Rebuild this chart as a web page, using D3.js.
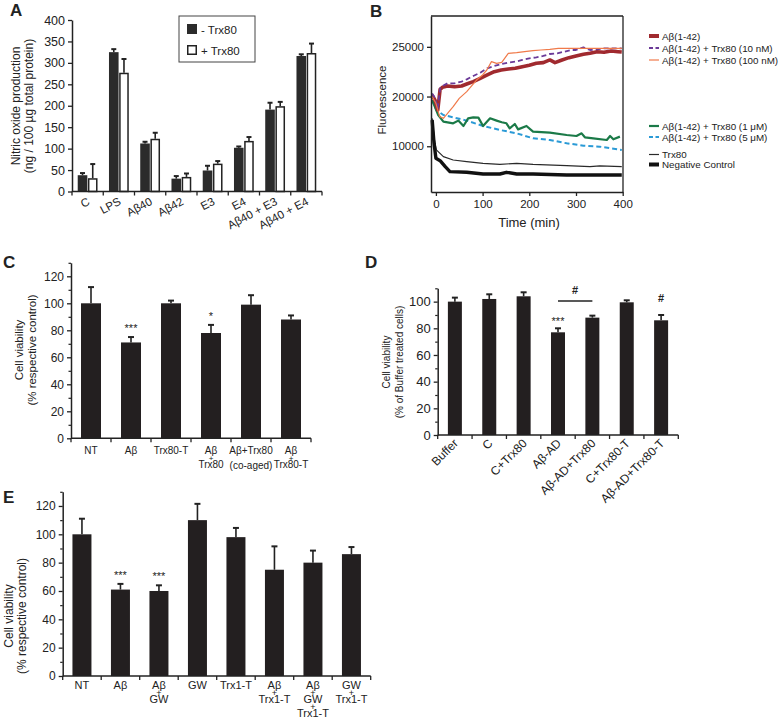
<!DOCTYPE html>
<html><head><meta charset="utf-8">
<script src="https://cdn.jsdelivr.net/npm/d3@7"></script>
<style>
body{margin:0;background:#fff}
svg{display:block}
text{font-family:"Liberation Sans",Arial,Helvetica,sans-serif;fill:#222}
</style>
</head><body>
<svg id="fig" width="784" height="722"></svg>
<script>
// ================= DATA =================
// Panel A
const catsA = ["C","LPS","Aβ40","Aβ42","E3","E4","Aβ40 + E3","Aβ40 + E4"];
const minusTrx80 = [38, 325, 112, 30, 49, 102, 191, 316];
const minusTrx80Err = [5, 7, 4, 6, 11, 3, 16, 4];
const plusTrx80 = [31, 277, 123, 34, 65, 118, 199, 323];
const plusTrx80Err = [33, 32, 14, 8, 6, 9, 10, 22];
const ticksA = [0, 50, 100, 150, 200, 250, 300, 350, 400];
const legendA = ["- Trx80", "+ Trx80"];

// Panel B (time in min, fluorescence)
const tAb = [-8,-2,4,9,14,25,40,55,66,80,95,110,125,140,155,170,185,200,215,230,244,255,270,285,300,316,330,345,360,375,390,398];
const fAb = [20150,19650,18650,20730,20930,21060,20990,21060,21260,21500,21830,22170,22500,22670,22770,22840,23000,23140,23340,23410,23680,23410,23680,23910,24080,24250,24350,24510,24450,24580,24510,24480];
const t10nM = [-8,-2,4,9,14,25,40,55,66,80,95,110,125,140,155,170,185,200,215,230,244,260,275,290,300,316,330,345,360,380,398];
const f10nM = [20320,19820,18820,20830,21060,21330,21330,21500,21730,22070,22400,22840,23070,23270,23410,23510,23680,23840,23940,24080,24280,24350,24510,24680,24680,24950,24680,24750,24850,24850,24850];
const t100nM = [-8,0,8,16,37,50,66,87,100,109,119,130,141,155,173,190,208,225,244,262,280,300,398];
const f100nM = [19990,19320,17980,17810,18980,19820,20490,21660,22170,22670,23510,23340,23440,24350,24410,24510,24610,24680,24750,24850,24850,24850,24850];
const t1uM = [-8,5,16,37,48,59,69,80,91,101,116,130,141,151,158,169,176,194,208,244,280,301,312,319,337,366,373,380,394];
const f1uM = [19650,18140,17470,17310,17580,17040,17810,17910,17880,17040,17810,17580,17410,17310,16800,17240,16700,17040,16470,16370,16130,16030,16300,15900,15800,15630,16030,15700,15970];
const t5uM = [-8,1,16,37,66,101,123,137,173,208,244,280,316,351,398];
const f5uM = [19650,18650,18140,17910,17580,17040,16800,16640,16300,15800,15630,15300,15060,14960,14630];
const tTrx80 = [-8,-3,1,16,37,66,101,137,173,208,280,330,351,398];
const fTrx80 = [17810,15630,14630,13960,13620,13450,13280,13180,13280,13180,13050,12950,13020,12950];
const tNeg = [-8,-4,0,9,20,30,66,101,137,151,173,208,280,351,398];
const fNeg = [17640,15300,13790,13550,12950,12450,12380,12210,12210,12380,12210,12210,12110,12110,12110];
const xTicksB = [0, 100, 200, 300, 400];
const yTickValsB = [25000, 20000, 15000];
const yTickLabelsB = ["25000", "20000", "10000"];
const seriesNamesB = ["Aβ(1-42)","Aβ(1-42) + Trx80 (10 nM)","Aβ(1-42) + Trx80 (100 nM)","Aβ(1-42) + Trx80 (1 μM)","Aβ(1-42) + Trx80 (5 μM)","Trx80","Negative Control"];

// Panel C
const catsC = [["NT"],["Aβ"],["Trx80-T"],["Aβ","+","Trx80"],["Aβ+Trx80","(co-aged)"],["Aβ","+","Trx80-T"]];
const valuesC = [100, 71, 100, 78, 99, 88];
const errC = [12, 4, 2, 6, 7, 3];
const sigC = ["", "***", "", "*", "", ""];
const ticksC = [0, 20, 40, 60, 80, 100, 120];

// Panel D
const catsD = ["Buffer","C","C+Trx80","Aβ-AD","Aβ-AD+Trx80","C+Trx80-T","Aβ-AD+Trx80-T"];
const valuesD = [100, 102, 104, 77, 88, 99.5, 86];
const errD = [3, 3.5, 3, 3, 1.5, 1.5, 4];
const ticksD = [0, 20, 40, 60, 80, 100];

// Panel E
const catsE = [["NT"],["Aβ"],["Aβ","+","GW"],["GW"],["Trx1-T"],["Aβ","+","Trx1-T"],["Aβ","+","GW","+","Trx1-T"],["GW","+","Trx1-T"]];
const valuesE = [100, 61, 60, 110, 98, 75, 80, 86];
const errE = [11, 4, 4, 11.5, 6.5, 16.5, 8.5, 5];
const sigE = ["", "***", "***", "", "", "", "", ""];
const ticksE = [0, 20, 40, 60, 80, 100, 120];

// ================= DRAWING =================
const svg = d3.select("#fig");
const INK = "#222";
const BAR = "#231f20";

function letter(t, x, y){
  svg.append("text").attr("x", x).attr("y", y).attr("font-size", 17).attr("font-weight", "bold").text(t);
}
function yTitle(lines, xs, cy, size){
  lines.forEach((l, i) => {
    svg.append("text").attr("transform", `translate(${xs[i]},${cy}) rotate(-90)`)
      .attr("text-anchor", "middle").attr("font-size", size).text(l);
  });
}
function yAxis(y, x0, majors, minors, fs, tickLabels){
  const g = svg.append("g").attr("transform", `translate(${x0},0)`);
  const ax = d3.axisLeft(y).tickValues(majors).tickSize(4).tickSizeOuter(0).tickPadding(3);
  if (tickLabels) ax.tickFormat((d, i) => tickLabels[i]);
  g.call(ax);
  g.select(".domain").attr("stroke", INK).attr("stroke-width", 1.5);
  g.selectAll(".tick line").attr("stroke", INK).attr("stroke-width", 1.3);
  g.selectAll(".tick text").attr("font-size", fs).attr("fill", INK).attr("font-family", null);
  if (minors){
    const gm = svg.append("g").attr("transform", `translate(${x0},0)`);
    gm.call(d3.axisLeft(y).tickValues(minors).tickSize(2.5).tickFormat(""));
    gm.select(".domain").remove();
    gm.selectAll(".tick line").attr("stroke", INK).attr("stroke-width", 1.2);
  }
  return g;
}
function xBandAxis(x, y0){
  const r = x.range();
  svg.append("line").attr("x1", r[0]).attr("x2", r[1]).attr("y1", y0).attr("y2", y0)
    .attr("stroke", INK).attr("stroke-width", 1.5);
  const n = x.domain().length;
  for (let i = 0; i <= n; i++){
    const xx = r[0] + i * x.step();
    svg.append("line").attr("x1", xx).attr("x2", xx).attr("y1", y0).attr("y2", y0 + 4)
      .attr("stroke", INK).attr("stroke-width", 1.3);
  }
}
function errBar(cx, yTop, yCap, capW, w){
  svg.append("line").attr("x1", cx).attr("x2", cx).attr("y1", yTop).attr("y2", yCap)
    .attr("stroke", INK).attr("stroke-width", w || 1.6);
  svg.append("line").attr("x1", cx - capW/2).attr("x2", cx + capW/2).attr("y1", yCap).attr("y2", yCap)
    .attr("stroke", INK).attr("stroke-width", 2);
}
function multiLabel(cx, y, lines, fs){
  const t = svg.append("text").attr("x", cx).attr("y", y).attr("text-anchor", "middle").attr("font-size", fs);
  let prev = null;
  lines.forEach((l, i) => {
    const dy = i === 0 ? 0 : ((l === "+" || prev === "+") ? 7 : 14.5);
    t.append("tspan").attr("x", cx).attr("dy", dy).attr("font-size", l === "+" ? fs - 2 : fs).text(l);
    prev = l;
  });
}

// ---------- Panel A ----------
(function(){
  letter("A", 10, 16);
  const x = d3.scaleBand().domain(catsA).range([72, 322]).paddingInner(0).paddingOuter(0);
  const y = d3.scaleLinear().domain([0, 400]).range([191.5, 20]);
  const bw = 9.6;
  catsA.forEach((c, i) => {
    const cx = x(c) + x.bandwidth()/2;
    errBar(cx - bw/2 - 0.3, y(minusTrx80[i]), y(minusTrx80[i] + minusTrx80Err[i]), 5);
    svg.append("rect").attr("x", cx - bw - 0.3).attr("width", bw).attr("y", y(minusTrx80[i]))
      .attr("height", y(0) - y(minusTrx80[i])).attr("fill", "#2b2b2b");
    errBar(cx + bw/2 + 0.3, y(plusTrx80[i]), y(plusTrx80[i] + plusTrx80Err[i]), 5);
    svg.append("rect").attr("x", cx + 0.3 + 0.75).attr("width", bw - 1.5).attr("y", y(plusTrx80[i]) + 0.75)
      .attr("height", y(0) - y(plusTrx80[i]) - 0.75).attr("fill", "#fff").attr("stroke", INK).attr("stroke-width", 1.5);
  });
  yAxis(y, 72, ticksA, null, 12.5);
  xBandAxis(x, 191.5);
  catsA.forEach(c => {
    const cx = x(c) + x.bandwidth()/2;
    svg.append("text").attr("transform", `translate(${cx + 3},${204}) rotate(-28)`)
      .attr("text-anchor", "end").attr("font-size", 11.5).text(c);
  });
  yTitle(["Nitric oxide production", "(ng / 100 µg total protein)"], [20, 33], 106, 12);
  svg.append("rect").attr("x", 179).attr("y", 16).attr("width", 76).attr("height", 46)
    .attr("fill", "#fff").attr("stroke", "#444").attr("stroke-width", 1);
  svg.append("rect").attr("x", 187).attr("y", 24).attr("width", 10).attr("height", 10).attr("fill", "#2b2b2b");
  svg.append("rect").attr("x", 187.75).attr("y", 45.75).attr("width", 8.5).attr("height", 8.5)
    .attr("fill", "#fff").attr("stroke", INK).attr("stroke-width", 1.5);
  svg.append("text").attr("x", 201).attr("y", 33.5).attr("font-size", 11.5).text(legendA[0]);
  svg.append("text").attr("x", 201).attr("y", 55).attr("font-size", 11.5).text(legendA[1]);
})();

// ---------- Panel B ----------
(function(){
  letter("B", 370, 17);
  const x = d3.scaleLinear().domain([-10.5, 400]).range([431, 622.7]);
  const y = d3.scaleLinear().domain([10400, 28100]).range([192, 16]);
  svg.append("line").attr("x1", 431).attr("x2", 623).attr("y1", 16).attr("y2", 16).attr("stroke", INK).attr("stroke-width", 1.3);
  svg.append("line").attr("x1", 623).attr("x2", 623).attr("y1", 16).attr("y2", 192).attr("stroke", INK).attr("stroke-width", 1.3);
  const series = [
    {t: tTrx80, f: fTrx80, c: "#2a2a2a", w: 1.2, d: null},
    {t: tNeg, f: fNeg, c: "#111", w: 3.4, d: null},
    {t: t5uM, f: f5uM, c: "#2a9ad6", w: 2, d: "5,3"},
    {t: t1uM, f: f1uM, c: "#1b7a48", w: 2.2, d: null},
    {t: tAb, f: fAb, c: "#a02a2f", w: 3.6, d: null},
    {t: t10nM, f: f10nM, c: "#6b3a98", w: 1.8, d: "5,3"},
    {t: t100nM, f: f100nM, c: "#f07a4a", w: 1.2, d: null}
  ];
  const line = d3.line().x(d => x(d[0])).y(d => y(d[1]));
  series.forEach(s => {
    svg.append("path").attr("d", line(s.t.map((t, i) => [t, s.f[i]])))
      .attr("fill", "none").attr("stroke", s.c).attr("stroke-width", s.w)
      .attr("stroke-dasharray", s.d).attr("stroke-linejoin", "round");
  });
  const gx = svg.append("g").attr("transform", "translate(0,192)");
  gx.call(d3.axisBottom(x).tickValues(xTicksB).tickSize(4).tickSizeOuter(0).tickPadding(4));
  gx.select(".domain").attr("stroke", INK).attr("stroke-width", 1.5);
  gx.selectAll(".tick line").attr("stroke", INK).attr("stroke-width", 1.3);
  gx.selectAll(".tick text").attr("font-size", 11.5).attr("fill", INK).attr("font-family", null);
  yAxis(y, 431, yTickValsB, null, 11.5, yTickLabelsB);
  svg.append("text").attr("x", 529).attr("y", 227).attr("text-anchor", "middle").attr("font-size", 13).text("Time (min)");
  yTitle(["Fluorescence"], [386], 100, 11.5);
  const leg = [
    {y: 36, c: "#a02a2f", w: 4, d: null},
    {y: 48, c: "#6b3a98", w: 1.8, d: "4,2.5"},
    {y: 60, c: "#f07a4a", w: 1.2, d: null},
    {y: 126, c: "#1b7a48", w: 2.2, d: null},
    {y: 137, c: "#2a9ad6", w: 2, d: "4,2.5"},
    {y: 154.5, c: "#2a2a2a", w: 1.2, d: null},
    {y: 164.5, c: "#111", w: 4, d: null}
  ];
  leg.forEach((l, i) => {
    svg.append("line").attr("x1", 649).attr("x2", 659).attr("y1", l.y).attr("y2", l.y)
      .attr("stroke", l.c).attr("stroke-width", l.w).attr("stroke-dasharray", l.d);
    svg.append("text").attr("x", 662).attr("y", l.y + 3.5).attr("font-size", 9.8).text(seriesNamesB[i]);
  });
})();

// ---------- Panel C ----------
(function(){
  letter("C", 3, 268);
  const keys = catsC.map((c, i) => "c" + i);
  const x = d3.scaleBand().domain(keys).range([71, 311]);
  const y = d3.scaleLinear().domain([0, 130]).range([438.3, 262.8]);
  const bw = 20;
  keys.forEach((k, i) => {
    const cx = x(k) + x.bandwidth()/2;
    errBar(cx, y(valuesC[i]), y(valuesC[i] + errC[i]), 6);
    svg.append("rect").attr("x", cx - bw/2).attr("width", bw).attr("y", y(valuesC[i]))
      .attr("height", y(0) - y(valuesC[i])).attr("fill", BAR);
    if (sigC[i]) svg.append("text").attr("x", cx).attr("y", y(valuesC[i] + errC[i]) - 5)
      .attr("text-anchor", "middle").attr("font-size", 11).text(sigC[i]);
    multiLabel(cx, 454, catsC[i], 10);
  });
  yAxis(y, 71, ticksC, [10, 30, 50, 70, 90, 110, 130], 12);
  xBandAxis(x, 438.3);
  yTitle(["Cell viability", "(% respective control)"], [23, 36], 350, 11.5);
})();

// ---------- Panel D ----------
(function(){
  letter("D", 365, 268);
  const x = d3.scaleBand().domain(catsD).range([437.7, 678.3]);
  const y = d3.scaleLinear().domain([0, 110]).range([435, 288.3]);
  const bw = 14;
  catsD.forEach((c, i) => {
    const cx = x(c) + x.bandwidth()/2;
    errBar(cx, y(valuesD[i]), y(valuesD[i] + errD[i]), 6);
    svg.append("rect").attr("x", cx - bw/2).attr("width", bw).attr("y", y(valuesD[i]))
      .attr("height", y(0) - y(valuesD[i])).attr("fill", BAR);
    svg.append("text").attr("transform", `translate(${cx + 4},${444}) rotate(-45)`)
      .attr("text-anchor", "end").attr("font-size", 12).text(c);
  });
  yAxis(y, 437.7, ticksD, [10, 30, 50, 70, 90, 110], 13);
  xBandAxis(x, 435);
  const c4 = x(catsD[3]) + x.bandwidth()/2, c5 = x(catsD[4]) + x.bandwidth()/2, c7 = x(catsD[6]) + x.bandwidth()/2;
  svg.append("text").attr("x", c4).attr("y", 325).attr("text-anchor", "middle").attr("font-size", 11).text("***");
  svg.append("line").attr("x1", c4).attr("x2", c5).attr("y1", 301).attr("y2", 301).attr("stroke", INK).attr("stroke-width", 1.4);
  svg.append("text").attr("x", (c4 + c5)/2).attr("y", 294).attr("text-anchor", "middle").attr("font-size", 11).attr("font-weight", "bold").text("#");
  svg.append("text").attr("x", c7).attr("y", 301.5).attr("text-anchor", "middle").attr("font-size", 11).attr("font-weight", "bold").text("#");
  yTitle(["Cell viability", "(% of Buffer treated cells)"], [390, 403], 362, 10);
})();

// ---------- Panel E ----------
(function(){
  letter("E", 3, 503);
  const keys = catsE.map((c, i) => "e" + i);
  const x = d3.scaleBand().domain(keys).range([62.7, 370.7]);
  const y = d3.scaleLinear().domain([0, 130]).range([676, 491.8]);
  const bw = 19;
  keys.forEach((k, i) => {
    const cx = x(k) + x.bandwidth()/2;
    errBar(cx, y(valuesE[i]), y(valuesE[i] + errE[i]), 6);
    svg.append("rect").attr("x", cx - bw/2).attr("width", bw).attr("y", y(valuesE[i]))
      .attr("height", y(0) - y(valuesE[i])).attr("fill", BAR);
    if (sigE[i]) svg.append("text").attr("x", cx).attr("y", y(valuesE[i] + errE[i]) - 5)
      .attr("text-anchor", "middle").attr("font-size", 11).text(sigE[i]);
    multiLabel(cx, 689, catsE[i], 11);
  });
  yAxis(y, 62.7, ticksE, [10, 30, 50, 70, 90, 110, 130], 12);
  xBandAxis(x, 676);
  yTitle(["Cell viability", "(% respective control)"], [13, 26], 616, 12);
})();
</script>
</body></html>
